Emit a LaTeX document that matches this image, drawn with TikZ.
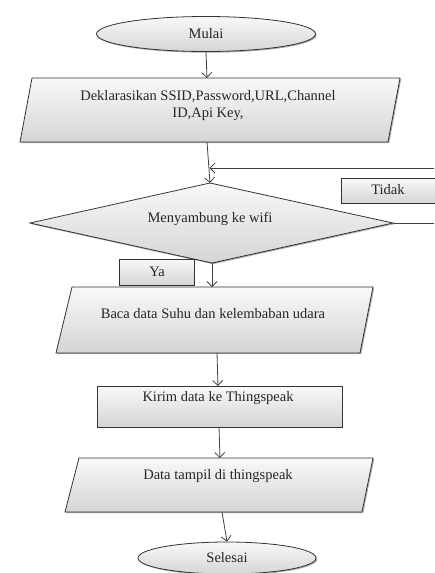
\documentclass[tikz,border=0pt]{standalone}
\usepackage{fontspec}
\setmainfont{Liberation Serif}
\usetikzlibrary{shapes.geometric,arrows.meta,shadows}
\begin{document}
\begin{tikzpicture}[x=1pt,y=-1pt,
  box/.style={draw=black!80, line width=0.8pt, top color=gray!5, bottom color=gray!33,
    drop shadow={shadow xshift=1.2pt, shadow yshift=-1.2pt, fill=black!55, opacity=0.6}},
  lbl/.style={font=\fontsize{14.5}{17}\selectfont, inner sep=0pt, text=black!85},
  conn/.style={draw=black!75, line width=0.8pt, -{Straight Barb[length=5pt,width=10pt]}},
  plain/.style={draw=black!75, line width=0.8pt},
]
\useasboundingbox (0,0) rectangle (434,573);

% Start
\node[box, ellipse, minimum width=219pt, minimum height=35pt, inner sep=0pt, lbl] (mulai) at (206,34) {Mulai};

% Parallelogram 1
\path[box] (32,78) -- (400,78) -- (388,142) -- (20,142) -- cycle;
\node[lbl, align=center] (dekl) at (208,106) {Deklarasikan SSID,Password,URL,Channel\\ID,Api Key,};
\coordinate (p1t) at (207,78);
\coordinate (p1b) at (207,142);

% Decision
\path[box] (210,183) -- (393,223) -- (212,263) -- (30,223) -- cycle;
\node[lbl] (wifi) at (210,219) {Menyambung ke wifi};
\coordinate (dt) at (210,183);
\coordinate (dr) at (393,223);
\coordinate (db) at (212,263);
\coordinate (rout) at (434,223);
\coordinate (rin) at (434,168);
\coordinate (jn) at (209.5,168);

% Labels
\path[box] (341,178) rectangle (440,203);
\node[lbl] (tidak) at (388,190) {Tidak};
\path[box] (119,259) rectangle (194,285);
\node[lbl] (ya) at (157,272) {Ya};

% Parallelogram 2
\path[box] (72,287) -- (373,287) -- (360,353) -- (56,353) -- cycle;
\node[lbl] (baca) at (213,314) {Baca data Suhu dan kelembaban udara};
\coordinate (p2t) at (212,287);
\coordinate (p2b) at (217,353);

% Process
\path[box] (97,386) rectangle (342,427);
\node[lbl] (kirim) at (218,398) {Kirim data ke Thingspeak};
\coordinate (rt) at (218,386);
\coordinate (rb) at (219,427);

% Parallelogram 3
\path[box] (79,458) -- (373,458) -- (362,512) -- (65,512) -- cycle;
\node[lbl] (tampil) at (218,476) {Data tampil di thingspeak};
\coordinate (p3t) at (220,458);
\coordinate (p3b) at (222,512);

% End
\node[box, ellipse, minimum width=178pt, minimum height=32pt, inner sep=0pt, lbl] (selesai) at (227,558) {Selesai};

% Connectors
\draw[conn] (mulai.south) -- (p1t);
\draw[conn] (p1b) -- (dt);
\draw[conn] (rin) -- (jn);
\draw[plain] (dr) -- (rout);
\draw[conn] (db) -- (p2t);
\draw[conn] (p2b) -- (rt);
\draw[conn] (rb) -- (p3t);
\draw[conn] (p3b) -- (selesai.north);
\end{tikzpicture}
\end{document}
